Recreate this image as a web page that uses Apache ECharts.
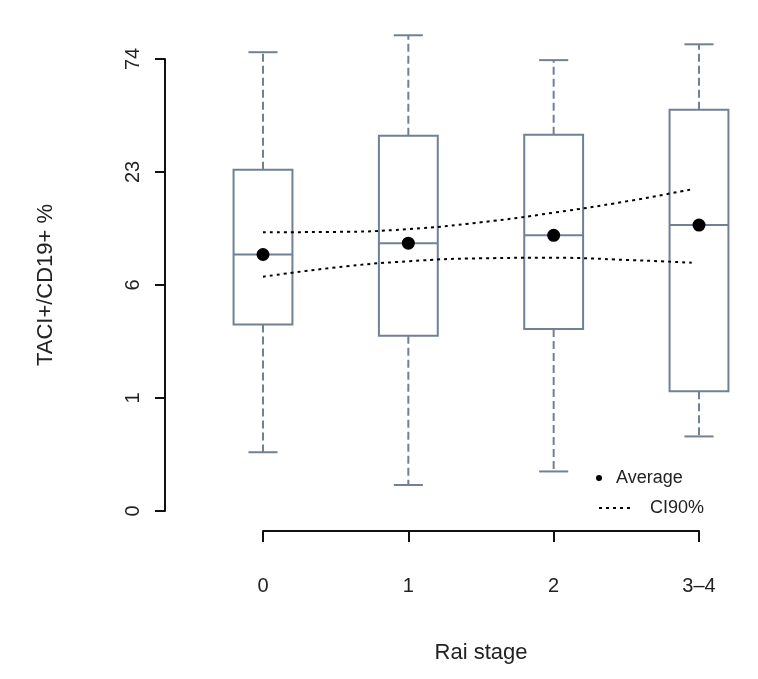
<!DOCTYPE html>
<html>
<head>
<meta charset="utf-8">
<script src="https://cdn.jsdelivr.net/npm/echarts@6/dist/echarts.min.js"></script>
<style>html,body{margin:0;padding:0;background:#fff}#c{width:758px;height:679px}</style>
</head>
<body>
<div id="c"></div>
<script>
// Categories (Rai stage) and tick labels of the transformed y scale
var categories = ['0', '1', '2', '3\u20134'];
var yTickLabels = ['0', '1', '6', '23', '74'];

// Box statistics, in the chart's transformed y units (tick k shows yTickLabels[k])
var whiskerLow = [0.52, 0.23, 0.35, 0.66];
var q1 = [1.65, 1.55, 1.61, 1.06];
var median = [2.27, 2.37, 2.44, 2.53];
var q3 = [3.02, 3.32, 3.33, 3.55];
var whiskerHigh = [4.06, 4.21, 3.99, 4.13];
var average = [2.27, 2.37, 2.44, 2.53];

// 90% confidence band (dotted curves)
var ciX = [0, 0.5, 1, 1.5, 2, 2.5, 2.95];
var ciUpper = [2.467, 2.47, 2.495, 2.555, 2.64, 2.74, 2.847];
var ciLower = [2.073, 2.155, 2.21, 2.236, 2.241, 2.222, 2.197];

var FONT = "'Liberation Sans', Arial, Helvetica, sans-serif";
var BOX = '#718096';

var boxData = categories.map(function (c, i) {
  return [i, whiskerLow[i], q1[i], median[i], q3[i], whiskerHigh[i]];
});

function renderBox(params, api) {
  var x = api.value(0);
  var unit = api.size([1, 0])[0];
  var bw = unit * 0.405, cw = unit * 0.2;
  var pLow = api.coord([x, api.value(1)]);
  var pQ1 = api.coord([x, api.value(2)]);
  var pMed = api.coord([x, api.value(3)]);
  var pQ3 = api.coord([x, api.value(4)]);
  var pHigh = api.coord([x, api.value(5)]);
  var cx = pMed[0];
  var solid = {stroke: BOX, lineWidth: 2, fill: null};
  var dashed = {stroke: BOX, lineWidth: 2, lineDash: [8, 4], fill: null};
  return {
    type: 'group',
    children: [
      {type: 'line', shape: {x1: cx, y1: pQ3[1], x2: cx, y2: pHigh[1]}, style: dashed},
      {type: 'line', shape: {x1: cx, y1: pQ1[1], x2: cx, y2: pLow[1]}, style: dashed},
      {type: 'line', shape: {x1: cx - cw / 2, y1: pHigh[1], x2: cx + cw / 2, y2: pHigh[1]}, style: solid},
      {type: 'line', shape: {x1: cx - cw / 2, y1: pLow[1], x2: cx + cw / 2, y2: pLow[1]}, style: solid},
      {type: 'rect', shape: {x: cx - bw / 2, y: pQ3[1], width: bw, height: pQ1[1] - pQ3[1]}, style: solid},
      {type: 'line', shape: {x1: cx - bw / 2, y1: pMed[1], x2: cx + bw / 2, y2: pMed[1]}, style: solid}
    ]
  };
}

var chart = echarts.init(document.getElementById('c'), null, {renderer: 'canvas'});
var option = {
  animation: false,
  backgroundColor: '#fff',
  textStyle: {fontFamily: FONT},
  grid: {left: 263, right: 59, top: 59, bottom: 168},
  legend: [
    {
      data: [{name: 'Average', icon: 'circle'}],
      left: 596, top: 469, padding: 0, selectedMode: false,
      itemWidth: 24, itemHeight: 6,
      itemStyle: {color: '#000', opacity: 1},
      textStyle: {fontSize: 18, color: '#222', fontFamily: FONT}
    },
    {
      data: ['CI90%'],
      left: 598, top: 499, padding: 0, selectedMode: false,
      itemWidth: 34, itemHeight: 10,
      itemStyle: {opacity: 0},
      textStyle: {fontSize: 18, color: '#222', fontFamily: FONT, padding: [0, 0, 0, 12]}
    }
  ],
  xAxis: {
    type: 'value', min: 0, max: 3, interval: 1, offset: 20,
    name: 'Rai stage', nameLocation: 'middle', nameGap: 111,
    nameTextStyle: {fontSize: 22, color: '#222', fontFamily: FONT},
    axisLine: {show: true, onZero: false, lineStyle: {color: '#111', width: 2}},
    axisTick: {show: true, length: 11, lineStyle: {color: '#111', width: 2}},
    axisLabel: {margin: 45, fontSize: 20, color: '#222', fontFamily: FONT,
      formatter: function (v) { return categories[Math.round(v)]; }},
    splitLine: {show: false}
  },
  yAxis: {
    type: 'value', min: 0, max: 4, interval: 1, offset: 98,
    name: 'TACI+/CD19+ %', nameLocation: 'middle', nameGap: 108,
    nameTextStyle: {fontSize: 22, color: '#222', fontFamily: FONT},
    axisLine: {show: true, onZero: false, lineStyle: {color: '#111', width: 2}},
    axisTick: {show: true, length: 10, lineStyle: {color: '#111', width: 2}},
    axisLabel: {margin: 22, rotate: 90, fontSize: 20, color: '#222', fontFamily: FONT,
      formatter: function (v) { return yTickLabels[Math.round(v)]; }},
    splitLine: {show: false}
  },
  series: [
    {type: 'custom', renderItem: renderBox, data: boxData, clip: false, silent: true, z: 2},
    {
      name: 'CI90%', type: 'line', smooth: 0.5, symbol: 'none', clip: false, z: 3,
      data: ciX.map(function (x, i) { return [x, ciUpper[i]]; }),
      lineStyle: {color: '#000', width: 2, type: [3, 4]}, itemStyle: {color: '#000'}
    },
    {
      name: 'CI90%', type: 'line', smooth: 0.5, symbol: 'none', clip: false, z: 3,
      data: ciX.map(function (x, i) { return [x, ciLower[i]]; }),
      lineStyle: {color: '#000', width: 2, type: [3, 4]}, itemStyle: {color: '#000'}
    },
    {
      name: 'Average', type: 'scatter', symbol: 'circle', symbolSize: 13, z: 4,
      data: average.map(function (v, i) { return [i, v]; }),
      itemStyle: {color: '#000', opacity: 1}
    }
  ]
};
chart.setOption(option);
</script>
</body>
</html>
